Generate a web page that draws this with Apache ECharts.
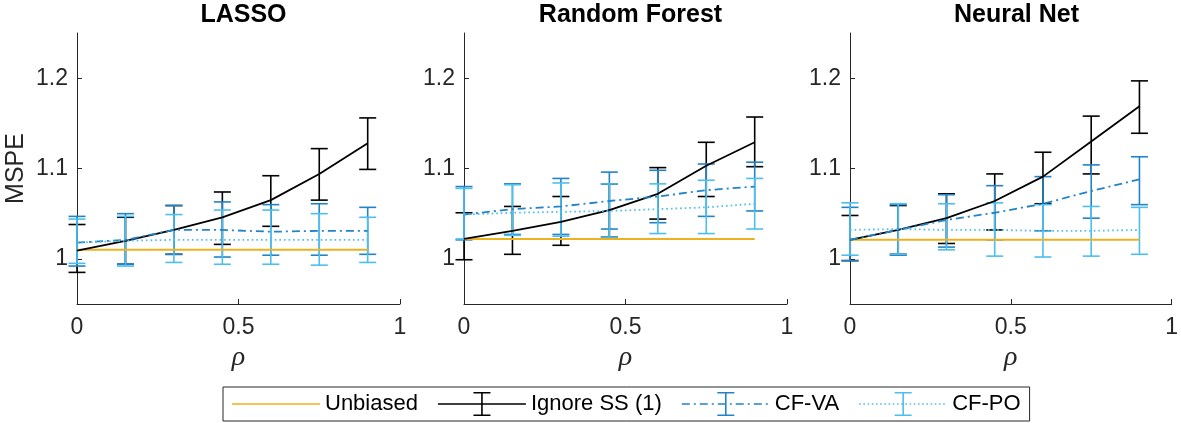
<!DOCTYPE html>
<html>
<head>
<meta charset="utf-8">
<script src="https://cdn.jsdelivr.net/npm/echarts@6/dist/echarts.min.js"></script>
<style>
html, body { margin: 0; padding: 0; background: #fff; }
#main { width: 1181px; height: 423px; }
</style>
</head>
<body>
<div id="main"></div>
<script>
var rho = [0, 0.15, 0.3, 0.45, 0.6, 0.75, 0.9];
var panelTitles = ['LASSO', 'Random Forest', 'Neural Net'];
var yTicks = [1, 1.1, 1.2];

// LASSO
var lassoUnb    = [1.010, 1.010, 1.010, 1.010, 1.010, 1.010, 1.010];
var lassoIgn    = [1.009, 1.020, 1.032, 1.046, 1.065, 1.094, 1.128];
var lassoIgnLo  = [0.985, 0.994, 1.005, 1.016, 1.036, 1.065, 1.099];
var lassoIgnHi  = [1.038, 1.046, 1.059, 1.074, 1.092, 1.122, 1.156];
var lassoVa     = [1.018, 1.021, 1.032, 1.032, 1.030, 1.031, 1.031];
var lassoVaLo   = [0.992, 0.994, 1.005, 1.002, 1.004, 1.004, 1.005];
var lassoVaHi   = [1.047, 1.050, 1.059, 1.063, 1.060, 1.061, 1.057];
var lassoPo     = [1.018, 1.020, 1.021, 1.021, 1.021, 1.021, 1.021];
var lassoPoLo   = [0.995, 0.992, 0.996, 0.994, 0.994, 0.993, 0.996];
var lassoPoHi   = [1.044, 1.047, 1.049, 1.054, 1.054, 1.050, 1.046];

// Random Forest
var rfUnb   = [1.022, 1.022, 1.022, 1.022, 1.022, 1.022, 1.022];
var rfIgn   = [1.022, 1.031, 1.041, 1.054, 1.072, 1.103, 1.129];
var rfIgnLo = [0.999, 1.005, 1.015, 1.024, 1.044, 1.069, 1.102];
var rfIgnHi = [1.051, 1.058, 1.069, 1.083, 1.101, 1.129, 1.157];
var rfVa    = [1.049, 1.055, 1.058, 1.064, 1.069, 1.076, 1.080];
var rfVaLo  = [1.021, 1.027, 1.027, 1.033, 1.040, 1.047, 1.053];
var rfVaHi  = [1.080, 1.083, 1.089, 1.096, 1.098, 1.105, 1.107];
var rfPo    = [1.049, 1.051, 1.052, 1.053, 1.055, 1.057, 1.061];
var rfPoLo  = [1.022, 1.026, 1.025, 1.024, 1.028, 1.028, 1.033];
var rfPoHi  = [1.078, 1.082, 1.084, 1.083, 1.083, 1.087, 1.089];

// Neural Net
var nnUnb   = [1.021, 1.021, 1.021, 1.021, 1.021, 1.021, 1.021];
var nnIgn   = [1.021, 1.032, 1.045, 1.064, 1.091, 1.130, 1.169];
var nnIgnLo = [0.998, 1.005, 1.017, 1.032, 1.061, 1.094, 1.139];
var nnIgnHi = [1.048, 1.059, 1.072, 1.094, 1.118, 1.158, 1.197];
var nnVa    = [1.021, 1.032, 1.043, 1.051, 1.061, 1.075, 1.088];
var nnVaLo  = [0.998, 1.004, 1.013, 1.021, 1.031, 1.045, 1.060];
var nnVaHi  = [1.057, 1.060, 1.071, 1.081, 1.091, 1.104, 1.113];
var nnPo    = [1.032, 1.033, 1.032, 1.032, 1.031, 1.031, 1.032];
var nnPoLo  = [1.004, 1.005, 1.010, 1.003, 1.002, 1.003, 1.005];
var nnPoHi  = [1.062, 1.061, 1.061, 1.062, 1.060, 1.058, 1.057];

var colUnb = '#EDB120', colIgn = '#000000', colVa = '#2283c6', colPo = '#4DBEEE';
var axisCol = '#262626';
var font = 'Liberation Sans, Arial, Helvetica, sans-serif';

var panels = [
    { unb: lassoUnb, ign: [lassoIgn, lassoIgnLo, lassoIgnHi], va: [lassoVa, lassoVaLo, lassoVaHi], po: [lassoPo, lassoPoLo, lassoPoHi] },
    { unb: rfUnb, ign: [rfIgn, rfIgnLo, rfIgnHi], va: [rfVa, rfVaLo, rfVaHi], po: [rfPo, rfPoLo, rfPoHi] },
    { unb: nnUnb, ign: [nnIgn, nnIgnLo, nnIgnHi], va: [nnVa, nnVaLo, nnVaHi], po: [nnPo, nnPoLo, nnPoHi] }
];
var gridLeft = [77, 464, 850];
var gridW = 323;

function pts(y) { return rho.map(function (x, i) { return [x, y[i]]; }); }
function bars(lo, hi) { return rho.map(function (x, i) { return [x, lo[i], hi[i]]; }); }

function errBar(params, api) {
    var x = api.value(0);
    var lo = api.coord([x, api.value(1)]);
    var hi = api.coord([x, api.value(2)]);
    var w = 8.5;
    var st = { stroke: api.visual('color'), lineWidth: 1.6 };
    return { type: 'group', children: [
        { type: 'line', shape: { x1: lo[0], y1: lo[1], x2: hi[0], y2: hi[1] }, style: st },
        { type: 'line', shape: { x1: lo[0] - w, y1: lo[1], x2: lo[0] + w, y2: lo[1] }, style: st },
        { type: 'line', shape: { x1: hi[0] - w, y1: hi[1], x2: hi[0] + w, y2: hi[1] }, style: st }
    ]};
}

// legend icons (88 x 24 box)
function rectP(x, y, w, h) { return 'M' + x + ' ' + y + 'h' + w + 'v' + h + 'h' + (-w) + 'Z'; }
function lineP(pattern) {
    var s = '', x = 0, k = 0;
    while (x < 88) {
        var len = Math.min(pattern[k % pattern.length], 88 - x);
        if (k % 2 === 0) s += rectP(x, 11.2, len, 1.6);
        x += pattern[k % pattern.length];
        k++;
    }
    return s;
}
var box = 'M0 0M88 24';
var ibeam = rectP(43.2, 0, 1.6, 24) + rectP(35.5, 0, 17, 1.6) + rectP(35.5, 22.4, 17, 1.6);
var iconUnb = 'path://' + box + lineP([88, 0]);
var iconIgn = 'path://' + box + lineP([88, 0]) + ibeam;
var iconVa = 'path://' + box + lineP([8, 4, 2, 4]) + ibeam;
var iconPo = 'path://' + box + lineP([1.6, 2.6]) + ibeam;

var grids = [], xAxes = [], yAxes = [], titles = [], series = [];
panels.forEach(function (p, i) {
    grids.push({ left: gridLeft[i], top: 33, width: gridW, height: 271 });
    titles.push({
        text: panelTitles[i], left: gridLeft[i] + gridW / 2, top: 0, textAlign: 'center', padding: [3, 5],
        textStyle: { fontFamily: font, fontSize: 25, fontWeight: 'bold', color: '#000' }
    });
    xAxes.push({
        type: 'value', gridIndex: i, min: 0, max: 1, interval: 0.5,
        name: 'ρ', nameLocation: 'middle', nameGap: 40,
        nameTextStyle: { fontFamily: 'Liberation Serif, serif', fontStyle: 'italic', fontSize: 28, color: axisCol },
        axisLine: { lineStyle: { color: axisCol, width: 1 } },
        axisTick: { inside: true, length: 5, lineStyle: { color: axisCol } },
        axisLabel: { fontFamily: font, fontSize: 23, color: axisCol, margin: 12 },
        splitLine: { show: false }
    });
    yAxes.push({
        type: 'value', gridIndex: i, min: 0.95, max: 1.25,
        name: i === 0 ? 'MSPE' : '', nameLocation: 'middle', nameGap: 48,
        nameTextStyle: { fontFamily: font, fontSize: 25, color: axisCol },
        axisLine: { show: true, lineStyle: { color: axisCol, width: 1 } },
        axisTick: { show: true, inside: true, length: 5, customValues: yTicks, lineStyle: { color: axisCol } },
        axisLabel: { fontFamily: font, fontSize: 23, color: axisCol, margin: 9, customValues: yTicks },
        splitLine: { show: false }
    });
    var common = { xAxisIndex: i, yAxisIndex: i, silent: true, animation: false };
    series.push(Object.assign({ type: 'line', name: 'Unbiased', data: pts(p.unb), symbol: 'none',
        itemStyle: { color: colUnb }, lineStyle: { color: colUnb, width: 2 } }, common));
    series.push(Object.assign({ type: 'line', name: 'Ignore SS (1)', data: pts(p.ign[0]), symbol: 'none',
        itemStyle: { color: colIgn }, lineStyle: { color: colIgn, width: 1.8 } }, common));
    series.push(Object.assign({ type: 'custom', name: 'Ignore SS (1)', data: bars(p.ign[1], p.ign[2]),
        renderItem: errBar, encode: { x: 0, y: [1, 2] }, itemStyle: { color: colIgn } }, common));
    series.push(Object.assign({ type: 'line', name: 'CF-VA', data: pts(p.va[0]), symbol: 'none',
        itemStyle: { color: colVa }, lineStyle: { color: colVa, width: 1.8, type: [8, 4, 2, 4] } }, common));
    series.push(Object.assign({ type: 'custom', name: 'CF-VA', data: bars(p.va[1], p.va[2]),
        renderItem: errBar, encode: { x: 0, y: [1, 2] }, itemStyle: { color: colVa } }, common));
    series.push(Object.assign({ type: 'line', name: 'CF-PO', data: pts(p.po[0]), symbol: 'none',
        itemStyle: { color: colPo }, lineStyle: { color: colPo, width: 1.8, type: [1.6, 3] } }, common));
    series.push(Object.assign({ type: 'custom', name: 'CF-PO', data: bars(p.po[1], p.po[2]),
        renderItem: errBar, encode: { x: 0, y: [1, 2] }, itemStyle: { color: colPo } }, common));
});

var myChart = echarts.init(document.getElementById('main'));
myChart.setOption({
    animation: false,
    backgroundColor: '#fff',
    title: titles,
    grid: grids,
    xAxis: xAxes,
    yAxis: yAxes,
    legend: {
        left: 223, top: 387, orient: 'horizontal',
        padding: [5, 9], itemGap: 20, itemWidth: 88, itemHeight: 24,
        borderColor: axisCol, borderWidth: 1, selectedMode: false,
        symbolKeepAspect: false,
        itemStyle: { borderWidth: 0 },
        textStyle: { fontFamily: font, fontSize: 22, color: '#000' },
        data: [
            { name: 'Unbiased', icon: iconUnb },
            { name: 'Ignore SS (1)', icon: iconIgn },
            { name: 'CF-VA', icon: iconVa },
            { name: 'CF-PO', icon: iconPo }
        ]
    },
    series: series
});
</script>
</body>
</html>
